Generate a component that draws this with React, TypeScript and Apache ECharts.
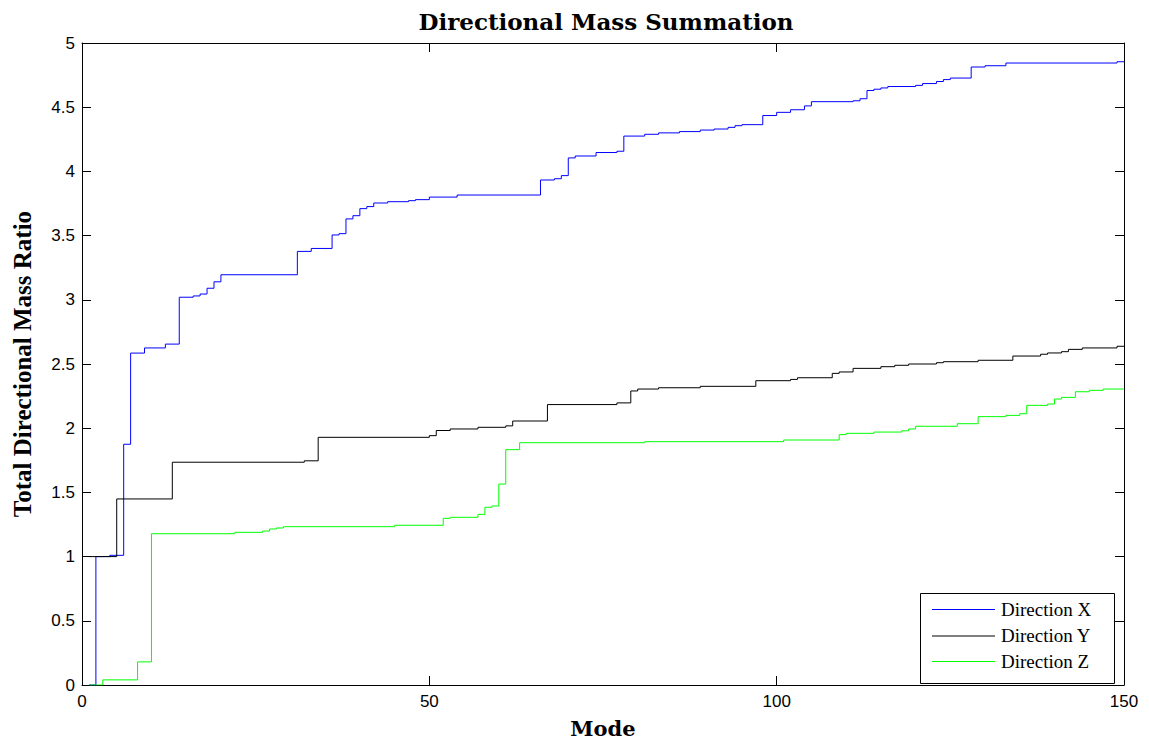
import React, { useEffect, useRef } from "react";
import * as echarts from "echarts";

const modesX = [1, 2, 4, 6, 7, 9, 12, 14, 16, 17, 18, 19, 20, 31, 33, 36, 37, 38, 39, 40, 41, 42, 44, 47, 48, 50, 54, 66, 68, 69, 70, 71, 74, 77, 78, 81, 83, 86, 89, 91, 93, 94, 95, 98, 100, 102, 104, 105, 111, 112, 113, 114, 115, 116, 120, 121, 123, 124, 125, 128, 130, 133, 149, 150];
const valuesX = [0, 1.0, 1.01, 1.875, 2.585, 2.625, 2.655, 3.02, 3.03, 3.045, 3.09, 3.14, 3.195, 3.377, 3.4, 3.505, 3.515, 3.63, 3.655, 3.71, 3.726, 3.754, 3.764, 3.772, 3.78, 3.8, 3.816, 3.933, 3.943, 3.967, 4.105, 4.12, 4.147, 4.157, 4.275, 4.289, 4.3, 4.31, 4.322, 4.33, 4.343, 4.356, 4.364, 4.435, 4.46, 4.48, 4.51, 4.543, 4.55, 4.566, 4.63, 4.64, 4.65, 4.661, 4.67, 4.684, 4.7, 4.715, 4.727, 4.813, 4.823, 4.844, 4.854, 4.854];

const modesY = [1, 5, 13, 32, 34, 50, 51, 53, 57, 61, 62, 67, 77, 79, 80, 83, 89, 97, 102, 103, 108, 109, 111, 115, 117, 119, 123, 124, 129, 134, 138, 139, 141, 142, 144, 149, 150];
const valuesY = [1.0, 1.449, 1.735, 1.746, 1.929, 1.942, 1.982, 1.994, 2.007, 2.018, 2.056, 2.184, 2.197, 2.29, 2.305, 2.315, 2.326, 2.37, 2.38, 2.393, 2.427, 2.438, 2.466, 2.479, 2.49, 2.5, 2.51, 2.518, 2.529, 2.562, 2.576, 2.586, 2.596, 2.614, 2.625, 2.638, 2.638];

const modesZ = [1, 3, 8, 10, 22, 26, 27, 28, 29, 45, 52, 53, 57, 58, 59, 60, 61, 63, 81, 101, 109, 110, 114, 118, 119, 120, 126, 129, 133, 135, 136, 139, 140, 141, 143, 145, 147, 150];
const valuesZ = [0, 0.04, 0.18, 1.178, 1.189, 1.199, 1.215, 1.223, 1.233, 1.244, 1.298, 1.306, 1.329, 1.384, 1.394, 1.565, 1.833, 1.887, 1.895, 1.908, 1.95, 1.96, 1.97, 1.98, 1.994, 2.015, 2.035, 2.09, 2.1, 2.113, 2.178, 2.188, 2.227, 2.24, 2.284, 2.295, 2.305, 2.305];

const seriesNames = ["Direction X", "Direction Y", "Direction Z"];
const seriesColors = ["#0000ff", "#000000", "#00ff00"];
const xTicks = [0, 50, 100, 150];
const yTicks = [0, 0.5, 1, 1.5, 2, 2.5, 3, 3.5, 4, 4.5, 5];

const zip = (a: number[], b: number[]) => a.map((m, i) => [m, b[i]]);

export default function App() {
  const ref = useRef<HTMLDivElement>(null);
  useEffect(() => {
    if (!ref.current) return;
    const chart = echarts.init(ref.current, undefined, { renderer: "svg" });
    const tickFont = { fontFamily: "Liberation Sans", fontSize: 17, color: "#000" };
    const frameAxis = {
      axisLine: { show: true, onZero: false, lineStyle: { color: "#000", width: 1 } },
      axisTick: { show: true, inside: true, length: 9, lineStyle: { color: "#000" } },
      splitLine: { show: false },
    };
    const datas = [zip(modesX, valuesX), zip(modesY, valuesY), zip(modesZ, valuesZ)];

    // legend box drawn with graphic elements
    const boxX = 920, boxY = 593, boxW = 194, boxH = 90;
    const rowY = [609, 635.5, 661];
    const legendChildren: any[] = [
      { type: "rect", shape: { x: boxX + 0.5, y: boxY + 0.5, width: boxW, height: boxH }, style: { fill: "#fff", stroke: "#000", lineWidth: 1 } },
    ];
    seriesNames.forEach((n, i) => {
      legendChildren.push({
        type: "line",
        shape: { x1: 932, y1: rowY[i] + 0.5, x2: 995, y2: rowY[i] + 0.5 },
        style: { stroke: seriesColors[i], lineWidth: 1 },
      });
      legendChildren.push({
        type: "text",
        x: 1001,
        y: rowY[i],
        style: { text: n, fontFamily: "Liberation Serif", fontSize: 19, fill: "#000", verticalAlign: "middle", align: "left" },
      });
    });

    chart.setOption({
      animation: false,
      backgroundColor: "#fff",
      color: seriesColors,
      title: {
        text: "Directional Mass Summation",
        left: 601,
        top: 5,
        textAlign: "center",
        textStyle: { fontFamily: "DejaVu Serif", fontSize: 23, fontWeight: "bold", color: "#000" },
      },
      grid: { left: 82, right: 25, top: 43, bottom: 58, containLabel: false, outerBoundsMode: "none" },
      graphic: [{ type: "group", z: 100, children: legendChildren }],
      xAxis: [
        {
          type: "value",
          min: 0,
          max: 150,
          interval: 50,
          position: "bottom",
          name: "Mode",
          nameLocation: "middle",
          nameGap: 33,
          nameTextStyle: { fontFamily: "DejaVu Serif", fontSize: 21, fontWeight: "bold", color: "#000" },
          axisLabel: { ...tickFont, margin: 8, formatter: (v: number) => (xTicks.includes(v) ? String(v) : "") },
          ...frameAxis,
        },
        {
          type: "value",
          min: 0,
          max: 150,
          interval: 50,
          position: "top",
          axisLabel: { show: false },
          ...frameAxis,
        },
      ],
      yAxis: [
        {
          type: "value",
          min: 0,
          max: 5,
          interval: 0.5,
          position: "left",
          name: "Total Directional Mass Ratio",
          nameLocation: "middle",
          nameGap: 47,
          nameTextStyle: { fontFamily: "Liberation Serif", fontSize: 25, fontWeight: "bold", color: "#000" },
          axisLabel: { ...tickFont, margin: 7, formatter: (v: number) => (yTicks.includes(v) ? String(v) : "") },
          ...frameAxis,
        },
        {
          type: "value",
          min: 0,
          max: 5,
          interval: 0.5,
          position: "right",
          axisLabel: { show: false },
          ...frameAxis,
        },
      ],
      series: datas.map((d, i) => ({
        name: seriesNames[i],
        type: "line",
        step: "end",
        data: d,
        symbol: "none",
        showSymbol: false,
        itemStyle: { color: seriesColors[i] },
        lineStyle: { color: seriesColors[i], width: 1 },
        xAxisIndex: 0,
        yAxisIndex: 0,
      })),
    });
    return () => chart.dispose();
  }, []);
  return (
    <div
      ref={ref}
      style={{ position: "fixed", left: 0, top: 0, width: 1149, height: 743, background: "#fff" }}
    />
  );
}
